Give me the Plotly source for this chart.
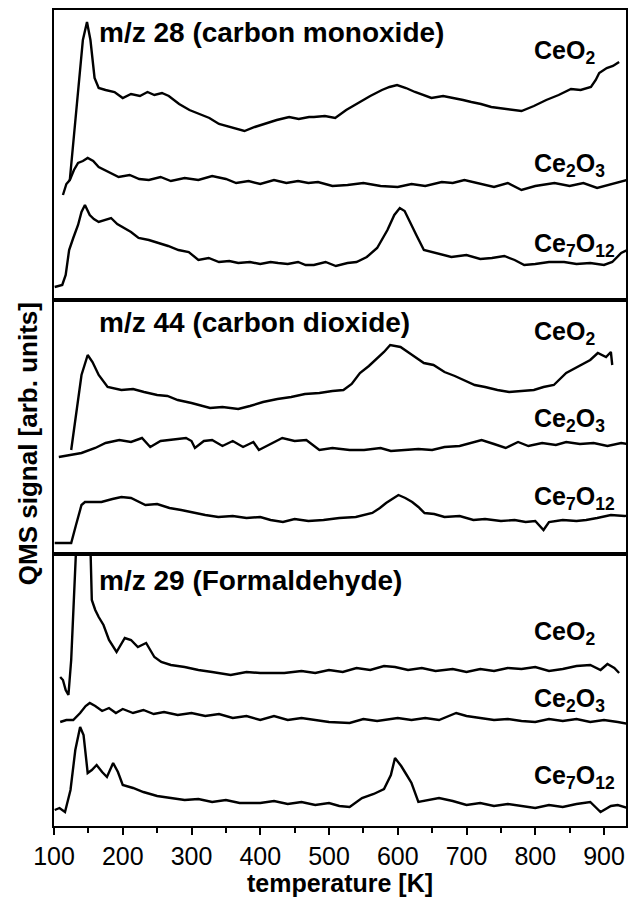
import plotly.graph_objects as go
from plotly.subplots import make_subplots

# m/z 28 (carbon monoxide)
co_ceo2_t = [123, 135, 142, 148, 153, 159, 165, 175, 188, 200, 212, 225, 236, 246, 257, 267, 282, 297, 311, 326, 340, 355, 366, 377, 392, 406, 424, 442, 456, 471, 478, 494, 509, 525, 542, 560, 577, 588, 599, 612, 625, 637, 649, 666, 683, 695, 707, 721, 736, 758, 780, 798, 816, 834, 852, 866, 881, 888, 893, 904, 913, 922]
co_ceo2_y = [180, 90, 40, 22, 40, 78, 88, 90, 92, 98, 94, 96, 92, 95, 93, 96, 104, 110, 114, 118, 124, 127, 129, 131, 127, 124, 120, 117, 119, 117, 117, 116, 118, 110, 103, 96, 90, 87, 85, 88, 92, 95, 98, 96, 98, 100, 102, 104, 107, 109, 111, 106, 100, 95, 89, 90, 87, 80, 73, 68, 66, 62]
co_ce2o3_t = [113, 118, 123, 129, 135, 142, 149, 157, 165, 180, 194, 210, 224, 238, 255, 270, 290, 310, 330, 350, 365, 383, 400, 420, 438, 455, 470, 484, 505, 527, 550, 575, 600, 620, 640, 664, 680, 697, 720, 740, 760, 780, 800, 828, 850, 870, 890, 910, 933, 942]
co_ce2o3_y = [195, 184, 180, 170, 163, 161, 158, 161, 167, 172, 177, 175, 179, 180, 177, 181, 178, 180, 176, 179, 183, 181, 184, 180, 183, 181, 183, 182, 186, 185, 183, 186, 187, 184, 186, 182, 183, 180, 184, 187, 183, 190, 186, 183, 186, 183, 188, 184, 180, 181]
co_ce7o12_t = [101, 106, 112, 117, 122, 128, 135, 140, 145, 152, 158, 165, 174, 183, 192, 201, 212, 223, 238, 252, 266, 281, 296, 310, 325, 340, 355, 368, 385, 400, 415, 426, 440, 455, 466, 478, 495, 510, 527, 540, 555, 570, 585, 595, 603, 610, 616, 627, 638, 655, 678, 700, 720, 737, 755, 770, 784, 800, 820, 842, 860, 880, 900, 912, 925, 943]
co_ce7o12_y = [287, 286, 285, 275, 250, 238, 225, 212, 205, 215, 219, 222, 220, 218, 224, 228, 232, 238, 240, 243, 246, 250, 252, 260, 258, 262, 261, 263, 262, 264, 262, 263, 264, 262, 265, 265, 262, 266, 263, 262, 257, 248, 230, 215, 208, 211, 220, 235, 250, 253, 257, 255, 259, 258, 256, 260, 265, 264, 262, 262, 264, 263, 265, 262, 253, 247]

# m/z 44 (carbon dioxide)
co2_ceo2_t = [125, 132, 140, 149, 156, 165, 178, 198, 215, 231, 250, 265, 280, 300, 327, 345, 368, 385, 404, 425, 445, 465, 486, 505, 521, 533, 545, 558, 568, 580, 589, 604, 621, 638, 652, 668, 683, 697, 712, 727, 745, 762, 780, 798, 812, 827, 845, 858, 868, 880, 891, 903, 910, 912]
co2_ceo2_y = [450, 415, 375, 355, 362, 375, 387, 390, 389, 392, 395, 396, 400, 403, 408, 407, 409, 406, 402, 399, 397, 394, 393, 391, 390, 384, 373, 366, 360, 352, 345, 347, 355, 363, 365, 372, 376, 380, 385, 387, 390, 392, 391, 390, 387, 385, 373, 368, 365, 360, 353, 357, 352, 365]
co2_ce2o3_t = [107, 121, 140, 160, 175, 195, 212, 228, 240, 255, 270, 292, 300, 305, 318, 330, 345, 360, 375, 390, 398, 415, 432, 450, 467, 486, 505, 530, 551, 575, 590, 610, 630, 650, 668, 690, 705, 722, 740, 757, 775, 790, 810, 830, 845, 865, 885, 905, 925, 944]
co2_ce2o3_y = [457, 455, 453, 448, 443, 440, 442, 438, 447, 441, 440, 438, 441, 448, 441, 440, 446, 441, 447, 442, 450, 444, 438, 441, 440, 450, 448, 450, 450, 448, 451, 450, 449, 450, 447, 446, 443, 440, 444, 448, 442, 446, 443, 445, 442, 444, 443, 446, 443, 445]
co2_ce7o12_t = [101, 112, 125, 132, 140, 145, 155, 169, 185, 198, 212, 233, 250, 268, 285, 304, 320, 339, 360, 380, 400, 415, 433, 450, 470, 492, 515, 539, 552, 563, 574, 583, 592, 601, 611, 621, 630, 639, 653, 668, 690, 710, 727, 750, 770, 786, 800, 806, 812, 820, 840, 860, 874, 890, 910, 930, 944]
co2_ce7o12_y = [543, 543, 543, 525, 505, 502, 502, 502, 499, 497, 498, 505, 504, 508, 510, 513, 515, 517, 516, 518, 517, 520, 522, 519, 521, 520, 518, 517, 515, 513, 508, 503, 499, 495, 498, 502, 507, 513, 514, 517, 516, 520, 519, 521, 520, 522, 521, 526, 530, 522, 520, 521, 520, 518, 515, 516, 515]

# m/z 29 (Formaldehyde)
fa_ceo2_t = [109, 113, 117, 121, 125, 130, 134, 152, 155, 160, 165, 172, 180, 191, 197, 203, 212, 222, 228, 234, 240, 246, 256, 270, 290, 310, 330, 357, 380, 400, 435, 460, 480, 500, 520, 540, 560, 580, 596, 615, 635, 655, 680, 700, 720, 740, 760, 780, 800, 820, 840, 860, 880, 895, 905, 915, 922]
fa_ceo2_y = [677, 680, 690, 695, 660, 554, 520, 520, 600, 610, 617, 625, 640, 652, 645, 638, 640, 647, 645, 643, 650, 657, 662, 665, 667, 670, 672, 675, 672, 673, 673, 671, 673, 670, 672, 668, 670, 666, 667, 670, 668, 671, 669, 672, 669, 671, 668, 669, 667, 671, 669, 666, 665, 670, 664, 668, 673]
fa_ce2o3_t = [109, 118, 128, 138, 146, 152, 160, 170, 180, 190, 200, 215, 230, 245, 260, 280, 300, 320, 340, 360, 380, 400, 420, 440, 460, 480, 500, 530, 550, 570, 600, 620, 640, 660, 685, 700, 720, 740, 760, 780, 800, 820, 840, 860, 880, 900, 920, 945]
fa_ce2o3_y = [722, 720, 720, 713, 706, 703, 706, 711, 708, 713, 709, 713, 710, 714, 712, 715, 713, 716, 714, 718, 716, 720, 716, 720, 718, 720, 722, 723, 719, 721, 718, 720, 718, 720, 713, 716, 718, 720, 719, 721, 722, 719, 721, 719, 722, 720, 722, 725]
fa_ce7o12_t = [101, 108, 116, 124, 131, 138, 143, 149, 155, 162, 170, 177, 186, 193, 200, 215, 230, 250, 270, 290, 310, 330, 350, 370, 400, 420, 440, 460, 480, 500, 515, 530, 548, 565, 580, 590, 596, 605, 613, 620, 630, 645, 660, 680, 700, 720, 740, 760, 780, 800, 820, 840, 860, 880, 895, 910, 920, 945]
fa_ce7o12_y = [810, 808, 812, 790, 750, 727, 735, 773, 770, 765, 772, 777, 763, 772, 785, 788, 792, 796, 798, 800, 799, 802, 800, 803, 803, 801, 804, 802, 805, 803, 806, 807, 798, 794, 789, 775, 758, 766, 775, 783, 802, 800, 798, 801, 805, 803, 806, 804, 806, 808, 805, 807, 804, 802, 812, 806, 805, 810]

panels = [
    ("<b>m/z 28 (carbon monoxide)</b>", [(co_ceo2_t, co_ceo2_y), (co_ce2o3_t, co_ce2o3_y), (co_ce7o12_t, co_ce7o12_y)],
     [52, 165, 245], 32, [300, 10]),
    ("<b>m/z 44 (carbon dioxide)</b>", [(co2_ceo2_t, co2_ceo2_y), (co2_ce2o3_t, co2_ce2o3_y), (co2_ce7o12_t, co2_ce7o12_y)],
     [333, 420, 498], 322, [554, 300]),
    ("<b>m/z 29 (Formaldehyde)</b>", [(fa_ceo2_t, fa_ceo2_y), (fa_ce2o3_t, fa_ce2o3_y), (fa_ce7o12_t, fa_ce7o12_y)],
     [633, 700, 777], 580, [826, 554]),
]
labels = ["<b>CeO<sub>2</sub></b>", "<b>Ce<sub>2</sub>O<sub>3</sub></b>", "<b>Ce<sub>7</sub>O<sub>12</sub></b>"]

fig = make_subplots(rows=3, cols=1, shared_xaxes=True, vertical_spacing=0,
                    row_heights=[290, 254, 272])
font = "Liberation Sans, Arial, sans-serif"

for i, (title, curves, laby, ty, yr) in enumerate(panels):
    row = i + 1
    for t, y in curves:
        fig.add_trace(go.Scatter(x=t, y=y, mode="lines", line=dict(color="black", width=2.4),
                                 showlegend=False), row=row, col=1)
    yref = "y" if row == 1 else "y%d" % row
    xref = "x" if row == 1 else "x%d" % row
    fig.add_annotation(x=162, y=ty, xref=xref, yref=yref, text=title, showarrow=False,
                       xanchor="left", yanchor="middle", font=dict(size=28, color="black", family=font))
    for lab, ly in zip(labels, laby):
        fig.add_annotation(x=795, y=ly, xref=xref, yref=yref, text=lab, showarrow=False,
                           xanchor="left", yanchor="middle", font=dict(size=25, color="black", family=font))
    fig.update_yaxes(range=yr, showticklabels=False, ticks="", showgrid=False, zeroline=False,
                     showline=True, linecolor="black", linewidth=2, mirror=True, row=row, col=1)

fig.update_xaxes(range=[100, 932], showgrid=False, zeroline=False, showline=True, linecolor="black",
                 linewidth=2, mirror=True)
fig.update_xaxes(tickvals=[100, 200, 300, 400, 500, 600, 700, 800, 900], ticks="outside", ticklen=7,
                 tickwidth=2, tickcolor="black",
                 minor=dict(tickvals=[150, 250, 350, 450, 550, 650, 750, 850], ticks="outside", ticklen=5,
                            tickwidth=2, tickcolor="black"),
                 tickfont=dict(size=25, color="black", family=font),
                 title=dict(text="<b>temperature [K]</b>", font=dict(size=25, color="black", family=font),
                            standoff=2),
                 row=3, col=1)

fig.add_annotation(x=-0.075, y=0.468, xref="paper", yref="paper", text="<b>QMS signal [arb. units]</b>",
                   textangle=-90, showarrow=False, font=dict(size=26, color="black", family=font))

fig.update_layout(width=620, height=889, margin=dict(l=46, r=0, t=2, b=71),
                  plot_bgcolor="white", paper_bgcolor="white")
fig.write_html("out.html")
